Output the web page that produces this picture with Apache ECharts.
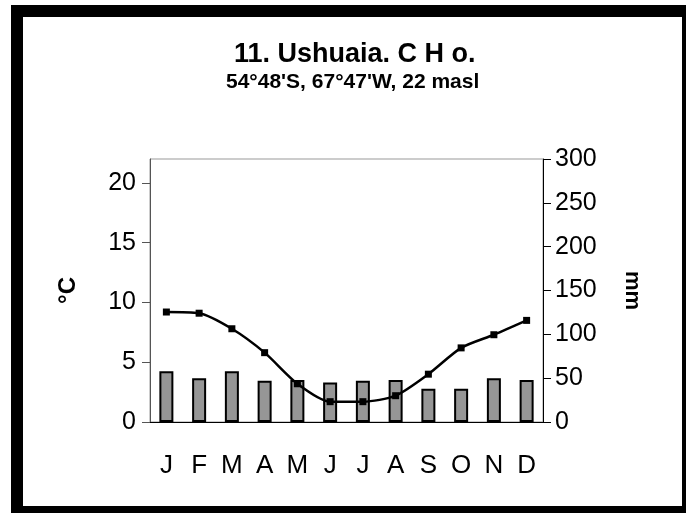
<!DOCTYPE html>
<html>
<head>
<meta charset="utf-8">
<script src="https://cdn.jsdelivr.net/npm/echarts@6/dist/echarts.min.js"></script>
<style>
  html, body { margin: 0; padding: 0; background: #fff; }
  #chart { width: 686px; height: 513px; }
</style>
</head>
<body>
<div id="chart"></div>
<script>
var months = ['J', 'F', 'M', 'A', 'M', 'J', 'J', 'A', 'S', 'O', 'N', 'D'];
// mean monthly temperature, °C (left axis)
var temperature = [9.2, 9.1, 7.8, 5.8, 3.2, 1.7, 1.7, 2.2, 4.0, 6.2, 7.3, 8.5];
// monthly precipitation, mm (right axis)
var precipitation = [58, 50, 58, 47, 48, 45, 47, 48, 38, 38, 50, 48];

var chart = echarts.init(document.getElementById('chart'));
var font = 'Liberation Sans, Arial, sans-serif';

var option = {
  animation: false,
  backgroundColor: '#fff',
  title: [
    {
      text: '11. Ushuaia. C H o.',
      left: 229,
      top: 36,
      textStyle: { fontFamily: font, fontSize: 27, fontWeight: 'bold', color: '#000' }
    },
    {
      text: "54°48'S, 67°47'W, 22 masl",
      left: 221,
      top: 67,
      textStyle: { fontFamily: font, fontSize: 21, fontWeight: 'bold', color: '#000' }
    }
  ],
  grid: {
    left: 150,
    right: 143,
    top: 159,
    bottom: 91,
    show: true,
    borderColor: '#999',
    borderWidth: 1
  },
  xAxis: {
    type: 'category',
    data: months,
    axisLine: { lineStyle: { color: '#000', width: 1 } },
    axisTick: { length: 8, lineStyle: { color: '#000' } },
    axisLabel: { fontFamily: font, fontSize: 26, color: '#000', margin: 31 }
  },
  yAxis: [
    {
      type: 'value',
      min: 0,
      max: 22,
      interval: 5,
      name: '°C',
      nameLocation: 'middle',
      nameRotate: 90,
      nameGap: 70,
      nameTextStyle: { fontFamily: font, fontSize: 24, fontWeight: 'bold', color: '#000' },
      axisLine: { show: true, lineStyle: { color: '#555', width: 1 } },
      axisTick: { show: true, length: 8, lineStyle: { color: '#555' } },
      axisLabel: {
        fontFamily: font, fontSize: 25, color: '#000', margin: 14,
        showMaxLabel: false
      },
      splitLine: { show: false }
    },
    {
      type: 'value',
      min: 0,
      max: 300,
      interval: 50,
      name: 'mm',
      nameLocation: 'middle',
      nameRotate: -90,
      nameGap: 78,
      nameTextStyle: { fontFamily: font, fontSize: 22, fontWeight: 'bold', color: '#000' },
      axisLine: { show: true, lineStyle: { color: '#000', width: 1 } },
      axisTick: { show: true, length: 8, lineStyle: { color: '#000' } },
      axisLabel: { fontFamily: font, fontSize: 25, color: '#000', margin: 12 },
      splitLine: { show: false }
    }
  ],
  series: [
    {
      name: 'Precipitation',
      type: 'bar',
      yAxisIndex: 1,
      data: precipitation,
      barWidth: 14,
      itemStyle: { color: '#969696', borderColor: '#000', borderWidth: 2 },
      z: 2
    },
    {
      name: 'Temperature',
      type: 'line',
      yAxisIndex: 0,
      data: temperature,
      smooth: 0.25,
      symbol: 'rect',
      symbolSize: 7,
      lineStyle: { color: '#000', width: 2.5 },
      itemStyle: { color: '#000' },
      z: 3
    }
  ],
  graphic: [
    { type: 'rect', shape: { x: 11, y: 5, width: 12, height: 508 }, style: { fill: '#000' } },
    { type: 'rect', shape: { x: 11, y: 5, width: 675, height: 12 }, style: { fill: '#000' } },
    { type: 'rect', shape: { x: 682, y: 5, width: 4, height: 508 }, style: { fill: '#000' } },
    { type: 'rect', shape: { x: 11, y: 506, width: 675, height: 7 }, style: { fill: '#000' } }
  ]
};

chart.setOption(option);
</script>
</body>
</html>
